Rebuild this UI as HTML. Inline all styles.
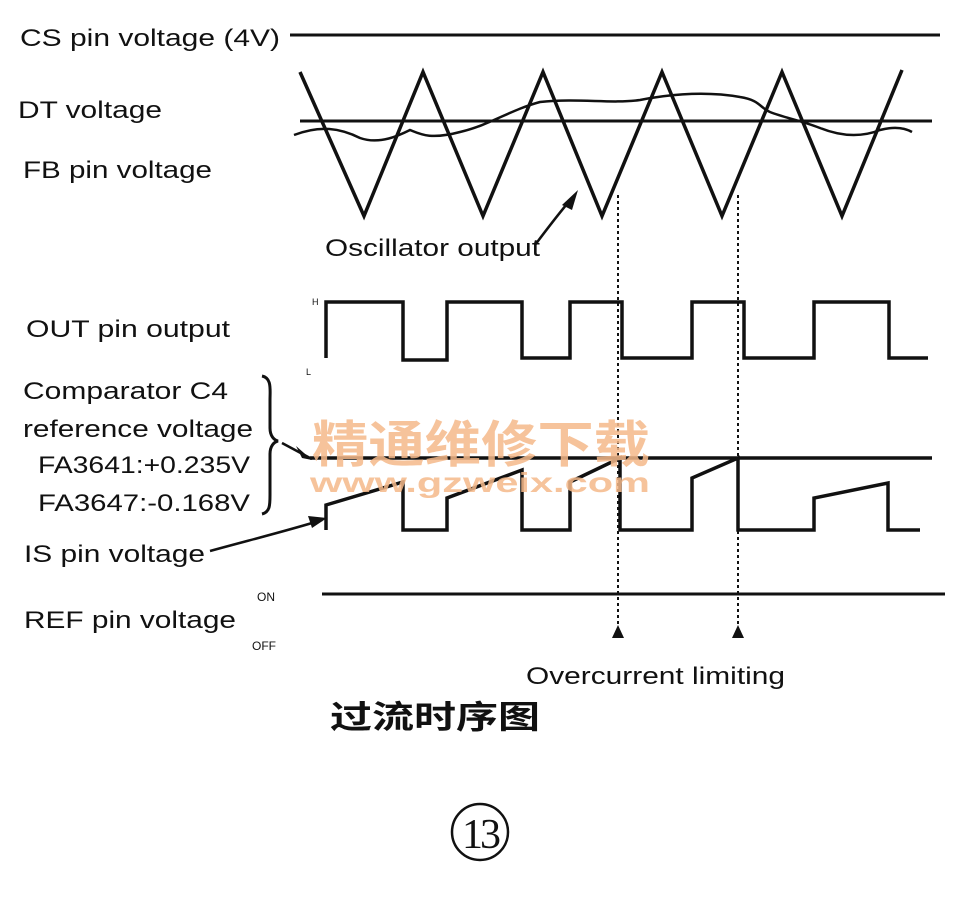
<!DOCTYPE html>
<html><head><meta charset="utf-8"><style>
html,body{margin:0;padding:0;background:#fff}
svg{display:block}
text{font-family:"Liberation Sans","Noto Sans CJK SC",sans-serif;fill:#111}
</style></head><body>
<svg width="957" height="904" viewBox="0 0 957 904" xmlns="http://www.w3.org/2000/svg">
<g fill="none" stroke="#111" stroke-linejoin="miter">
<line x1="290" y1="35" x2="940" y2="35" stroke-width="3"/>
<line x1="300" y1="121" x2="932" y2="121" stroke-width="3"/>
<path d="M294,135 C320,125 340,128 360,138 C380,145 400,135 410,130 C420,134 430,140 460,132 C490,125 510,110 540,102 C580,98 610,104 640,100 C660,96 700,90 740,97 C760,100 760,108 770,112 C785,118 800,120 820,128 C840,136 860,138 880,130 C895,126 905,128 912,132" stroke-width="2.5"/>
<polyline points="300,72 364,216 423,72 483,216 543,72 602,216 662,72 722,216 782,72 842,216 902,70" stroke-width="3.5"/>
<line x1="618" y1="195" x2="618" y2="625" stroke-width="2" stroke-dasharray="3,3"/>
<line x1="738" y1="195" x2="738" y2="625" stroke-width="2" stroke-dasharray="3,3"/>
<path d="M535,245 C550,225 560,212 572,198" stroke-width="2.5"/>
<polyline points="326,358 326,302 403,302 403,360 447,360 447,302 522,302 522,358 570,358 570,302 622,302 622,358 692,358 692,302 744,302 744,358 814,358 814,302 889,302 889,358 928,358" stroke-width="3.5"/>
<line x1="310" y1="458" x2="932" y2="458" stroke-width="3.5"/>
<polyline points="326,530 326,505 403,482 403,530 447,530 447,498 522,470 522,530 570,530 570,482 620,458 620,530 692,530 692,478 738,458 738,530 814,530 814,498 888,483 888,530 920,530" stroke-width="3.5"/>
<line x1="322" y1="594" x2="945" y2="594" stroke-width="3"/>
<path d="M262,376 C272,378 270,390 270,400 L270,428 C270,436 274,440 278,441 C274,442 270,446 270,454 L270,495 C270,505 270,512 262,514" stroke-width="3"/>
<path d="M282,443 L310,458" stroke-width="2.5"/>
<path d="M210,551 C250,540 290,530 322,520" stroke-width="2.5"/>
</g>
<g fill="#111">
<polygon points="578,190 562,205 572,210"/>
<polygon points="312,460 296,446 302,458 292,456"/>
<polygon points="327,518 308,516 312,528"/>
<polygon points="618,625 612,638 624,638"/>
<polygon points="738,625 732,638 744,638"/>
</g>
<text x="312" y="462" font-size="50" textLength="338" lengthAdjust="spacingAndGlyphs" font-weight="bold" style="fill:#f5b98a;font-family:'Noto Sans CJK SC',sans-serif" opacity="0.85">精通维修下载</text>
<text x="310" y="492" font-size="28" font-weight="bold" textLength="340" lengthAdjust="spacingAndGlyphs" style="fill:#f5b98a" opacity="0.85">www.gzweix.com</text>
<g font-size="24">
<text x="20" y="46" textLength="260" lengthAdjust="spacingAndGlyphs">CS pin voltage (4V)</text>
<text x="18" y="118" textLength="144" lengthAdjust="spacingAndGlyphs">DT voltage</text>
<text x="23" y="178" textLength="189" lengthAdjust="spacingAndGlyphs">FB pin voltage</text>
<text x="325" y="256" textLength="215" lengthAdjust="spacingAndGlyphs">Oscillator output</text>
<text x="26" y="337" textLength="204" lengthAdjust="spacingAndGlyphs">OUT pin output</text>
<text x="23" y="399" textLength="205" lengthAdjust="spacingAndGlyphs">Comparator C4</text>
<text x="23" y="437" textLength="230" lengthAdjust="spacingAndGlyphs">reference voltage</text>
<text x="38" y="473" textLength="212" lengthAdjust="spacingAndGlyphs">FA3641:+0.235V</text>
<text x="38" y="511" textLength="212" lengthAdjust="spacingAndGlyphs">FA3647:-0.168V</text>
<text x="24" y="562" textLength="181" lengthAdjust="spacingAndGlyphs">IS pin voltage</text>
<text x="24" y="628" textLength="212" lengthAdjust="spacingAndGlyphs">REF pin voltage</text>
<text x="526" y="684" textLength="259" lengthAdjust="spacingAndGlyphs">Overcurrent limiting</text>
</g>
<text x="257" y="601" font-size="12">ON</text>
<text x="252" y="650" font-size="12">OFF</text>
<text x="312" y="305" font-size="9">H</text>
<text x="306" y="375" font-size="9">L</text>
<text x="330" y="728" font-size="32" font-weight="bold" textLength="210" lengthAdjust="spacingAndGlyphs" style="font-family:'Noto Sans CJK SC',sans-serif">过流时序图</text>
<circle cx="480" cy="832" r="28" fill="none" stroke="#111" stroke-width="2.5"/>
<text x="480" y="848" font-size="42" text-anchor="middle" style="font-family:'Liberation Serif',serif" letter-spacing="-3">13</text>
</svg>
</body></html>
